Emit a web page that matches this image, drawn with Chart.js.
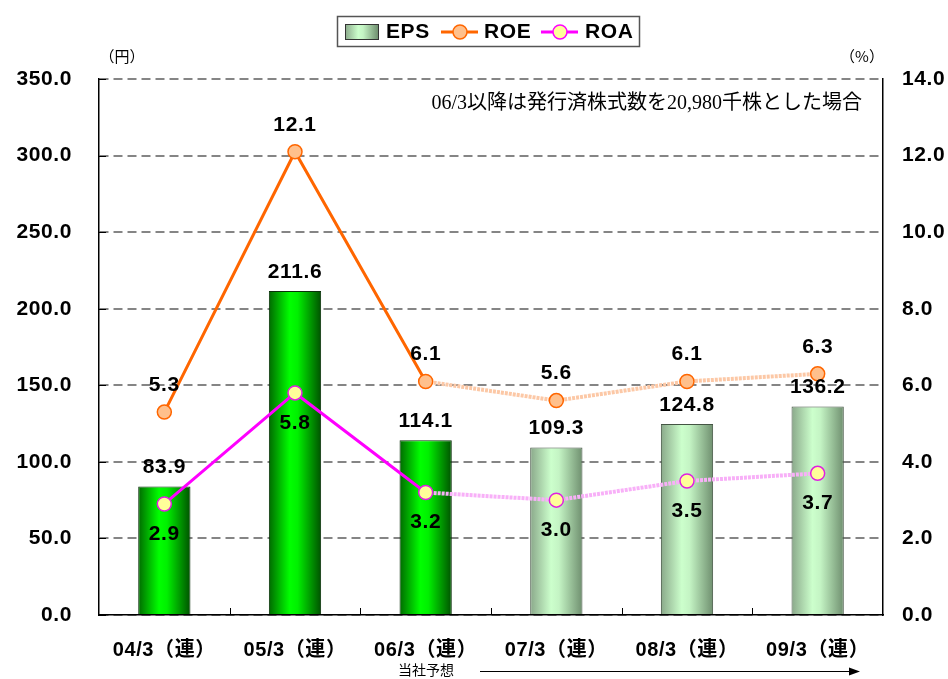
<!DOCTYPE html>
<html>
<head>
<meta charset="utf-8">
<script src="https://cdn.jsdelivr.net/npm/chart.js@4.4.0/dist/chart.umd.min.js"></script>
<style>
  html, body { margin: 0; padding: 0; background: #fff; }
  #wrap { width: 948px; height: 679px; }
</style>
</head>
<body>
<div id="wrap"><canvas id="epsChart" width="948" height="679"></canvas></div>
<script>
// donnees
const categories = ["04/3（連）", "05/3（連）", "06/3（連）", "07/3（連）", "08/3（連）", "09/3（連）"];
const epsValues = [83.9, 211.6, 114.1, 109.3, 124.8, 136.2];
const roeValues = [5.3, 12.1, 6.1, 5.6, 6.1, 6.3];
const roaValues = [2.9, 5.8, 3.2, 3.0, 3.5, 3.7];
const forecastFrom = 3; // 07/3 et apres = previsions

const FONT = "'Liberation Sans', Arial, 'Noto Sans CJK JP', sans-serif";
const JP = "'Noto Sans CJK JP', sans-serif";
const SPACING = "0.6px";

function barGradient(ctx, x0, x1, forecast) {
  const g = ctx.createLinearGradient(x0, 0, x1, 0);
  if (forecast) {
    g.addColorStop(0, "#8aa88a");
    g.addColorStop(0.4, "#ccffcc");
    g.addColorStop(0.55, "#c4f4c4");
    g.addColorStop(1, "#6f8f6f");
  } else {
    g.addColorStop(0, "#006a00");
    g.addColorStop(0.4, "#00ff00");
    g.addColorStop(0.55, "#00f000");
    g.addColorStop(1, "#005200");
  }
  return g;
}

function couleurBarre(context) {
  const chart = context.chart;
  const x = chart.scales.x;
  if (!chart.chartArea || !x) return "#00cc00";
  const w = (x.width / categories.length) * 0.4;
  const cx = x.getPixelForValue(context.dataIndex);
  return barGradient(chart.ctx, cx - w / 2, cx + w / 2, context.dataIndex >= forecastFrom);
}

const decorations = {
  id: "decorations",
  beforeDraw(chart) {
    chart.ctx.letterSpacing = SPACING;
  },
  afterDatasetsDraw(chart) {
    const ctx = chart.ctx;
    const x = chart.scales.x, y = chart.scales.y, y2 = chart.scales.y2;
    const area = chart.chartArea;
    ctx.save();
    ctx.letterSpacing = SPACING;
    ctx.fillStyle = "#000";
    ctx.font = "bold 21px " + FONT;
    ctx.textAlign = "center";
    ctx.textBaseline = "middle";
    categories.forEach((c, i) => {
      const px = x.getPixelForValue(i);
      ctx.fillText(epsValues[i].toFixed(1), px, y.getPixelForValue(epsValues[i]) - 19);
      ctx.fillText(roeValues[i].toFixed(1), px, y2.getPixelForValue(roeValues[i]) - 27);
      ctx.fillText(roaValues[i].toFixed(1), px, y2.getPixelForValue(roaValues[i]) + 30);
    });

    // petits traits sur les axes
    ctx.strokeStyle = "#000";
    ctx.lineWidth = 1;
    const step = x.width / categories.length;
    for (let k = 1; k < categories.length; k++) {
      const px = Math.round(area.left + k * step) + 0.5;
      ctx.beginPath();
      ctx.moveTo(px, area.bottom - 7);
      ctx.lineTo(px, area.bottom);
      ctx.stroke();
    }
    y.ticks.forEach(t => {
      const py = Math.round(y.getPixelForValue(t.value)) + 0.5;
      ctx.beginPath();
      ctx.moveTo(area.left, py);
      ctx.lineTo(area.left + 7, py);
      ctx.stroke();
    });

    ctx.letterSpacing = "0px";
    // unites
    ctx.font = "15px " + JP;
    ctx.fillText("（円）", 122, 56);
    ctx.fillText("（%）", 862, 56);

    // note
    ctx.font = "20px 'Liberation Serif', 'Noto Sans CJK JP', serif";
    ctx.textAlign = "right";
    ctx.fillText("06/3以降は発行済株式数を20,980千株とした場合", 862, 104);

    // previsions
    ctx.textAlign = "left";
    ctx.font = "14px " + JP;
    ctx.fillText("当社予想", 398, 670);
    ctx.beginPath();
    ctx.moveTo(480, 671.5);
    ctx.lineTo(850, 671.5);
    ctx.stroke();
    ctx.beginPath();
    ctx.moveTo(860, 671.5);
    ctx.lineTo(849, 667.5);
    ctx.lineTo(849, 675.5);
    ctx.closePath();
    ctx.fill();

    // legende
    ctx.fillStyle = "#fff";
    ctx.fillRect(337, 16, 303, 30);
    ctx.strokeStyle = "#555";
    ctx.lineWidth = 1.5;
    ctx.strokeRect(337.5, 16.5, 302, 30);
    ctx.fillStyle = barGradient(ctx, 345, 378, true);
    ctx.fillRect(345, 24, 33, 15);
    ctx.strokeStyle = "#333";
    ctx.lineWidth = 1;
    ctx.strokeRect(345.5, 24.5, 33, 15);

    ctx.lineWidth = 3;
    ctx.strokeStyle = "#ff6600";
    ctx.beginPath(); ctx.moveTo(441, 32); ctx.lineTo(478, 32); ctx.stroke();
    ctx.beginPath(); ctx.arc(460, 32, 7, 0, Math.PI * 2);
    ctx.fillStyle = "#ffc08c"; ctx.fill();
    ctx.lineWidth = 1.5; ctx.stroke();

    ctx.lineWidth = 3;
    ctx.strokeStyle = "#ff00ff";
    ctx.beginPath(); ctx.moveTo(541, 32); ctx.lineTo(578, 32); ctx.stroke();
    ctx.beginPath(); ctx.arc(560, 32, 7, 0, Math.PI * 2);
    ctx.fillStyle = "#ffff99"; ctx.fill();
    ctx.lineWidth = 1.5; ctx.stroke();

    ctx.fillStyle = "#000";
    ctx.letterSpacing = SPACING;
    ctx.font = "bold 21px " + FONT;
    ctx.fillText("EPS", 386, 32);
    ctx.fillText("ROE", 484, 32);
    ctx.fillText("ROA", 585, 32);
    ctx.restore();
  }
};

function segPrevision(couleur, pale) {
  return {
    borderColor: c => (c.p0DataIndex >= forecastFrom - 1 ? pale : couleur),
    borderWidth: c => (c.p0DataIndex >= forecastFrom - 1 ? 4 : 3),
    borderDash: c => (c.p0DataIndex >= forecastFrom - 1 ? [3, 1] : undefined)
  };
}

const ctxChart = document.getElementById("epsChart").getContext("2d");
new Chart(ctxChart, {
  data: {
    labels: categories,
    datasets: [
      {
        type: "line",
        label: "ROE",
        data: roeValues,
        yAxisID: "y2",
        borderColor: "#ff6600",
        borderWidth: 3,
        pointRadius: 7,
        pointBorderWidth: 1.5,
        pointBackgroundColor: "#ffc08c",
        pointBorderColor: "#ff6600",
        segment: segPrevision("#ff6600", "#fcc8a6"),
        order: 1
      },
      {
        type: "line",
        label: "ROA",
        data: roaValues,
        yAxisID: "y2",
        borderColor: "#ff00ff",
        borderWidth: 3,
        pointRadius: 7,
        pointBorderWidth: 1.5,
        pointBackgroundColor: "#ffff99",
        pointBorderColor: "#e020e0",
        segment: segPrevision("#ff00ff", "#f8b0f8"),
        order: 2
      },
      {
        type: "bar",
        label: "EPS",
        data: epsValues,
        yAxisID: "y",
        backgroundColor: couleurBarre,
        borderColor: c => (c.dataIndex >= forecastFrom ? "#445544" : "#0a300a"),
        borderWidth: 1,
        borderSkipped: "bottom",
        categoryPercentage: 1,
        barPercentage: 0.4,
        order: 3
      }
    ]
  },
  options: {
    responsive: false,
    animation: false,
    layout: { padding: { top: 79, left: 0, right: 0, bottom: 0 } },
    plugins: {
      legend: { display: false },
      tooltip: { enabled: false }
    },
    scales: {
      x: {
        grid: { display: false },
        border: { color: "#000", width: 1.5 },
        ticks: { color: "#000", padding: 15, font: { family: FONT, size: 20, weight: "bold" } },
        afterFit: s => { s.height = 64; }
      },
      y: {
        position: "left",
        min: 0, max: 350,
        ticks: {
          stepSize: 50, color: "#000", padding: 27,
          font: { family: FONT, size: 21, weight: "bold" },
          callback: v => v.toFixed(1)
        },
        grid: { color: "#858585", lineWidth: 2, drawTicks: false },
        border: { color: "#000", width: 1.5, dash: [9, 5] },
        afterFit: s => { s.width = 99; }
      },
      y2: {
        position: "right",
        min: 0, max: 14,
        ticks: {
          stepSize: 2, color: "#000", padding: 19,
          font: { family: FONT, size: 21, weight: "bold" },
          callback: v => v.toFixed(1)
        },
        grid: { display: false, drawTicks: false },
        border: { color: "#000", width: 1.5 },
        afterFit: s => { s.width = 65; }
      }
    }
  },
  plugins: [decorations]
});
</script>
</body>
</html>
